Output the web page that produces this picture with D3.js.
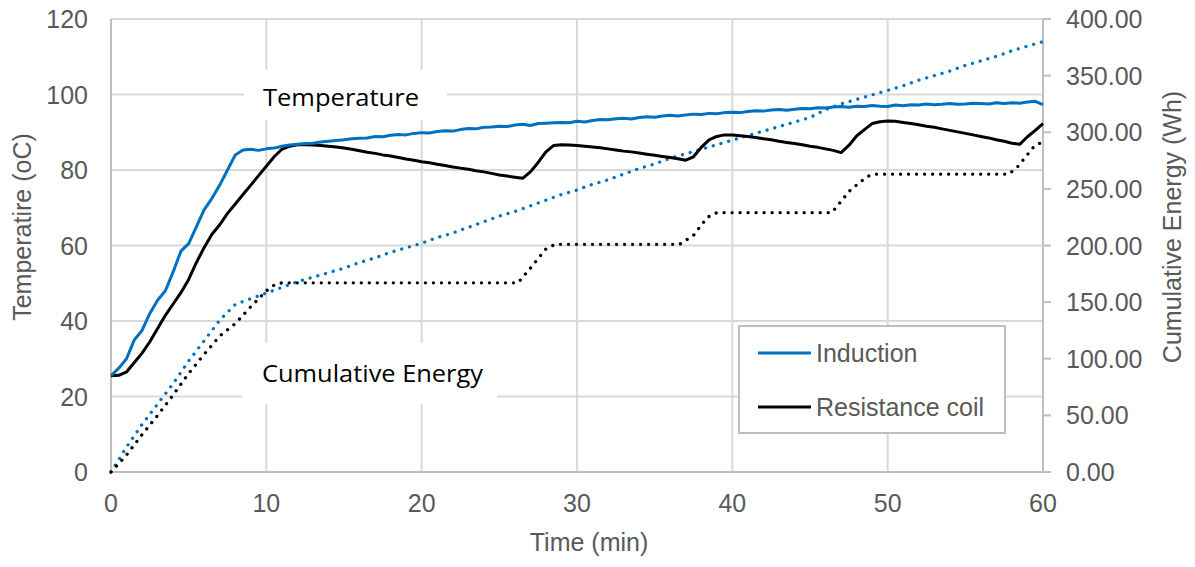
<!DOCTYPE html>
<html><head><meta charset="utf-8">
<script src="https://cdn.jsdelivr.net/npm/d3@7"></script>
<style>
html,body{margin:0;padding:0;background:#fff;}
svg{display:block;}
</style></head>
<body>
<svg id="chart" width="1195" height="567"></svg>
<script>
// ---------- DATA ----------
const tempTime = [0,0.5,1,1.5,2,2.5,3,3.5,4,4.5,5,5.5,6,6.5,7,7.5,8,8.5,9,9.5,10,10.5,11,11.5,12,12.5,13,13.5,14,14.5,
15,15.5,16,16.5,17,17.5,18,18.5,19,19.5,20,20.5,21,21.5,22,22.5,23,23.5,24,24.5,25,25.5,26,26.5,27,27.5,28,28.5,29,29.5,
30,30.5,31,31.5,32,32.5,33,33.5,34,34.5,35,35.5,36,36.5,37,37.5,38,38.5,39,39.5,40,40.5,41,41.5,42,42.5,43,43.5,44,44.5,
45,45.5,46,46.5,47,47.5,48,48.5,49,49.5,50,50.5,51,51.5,52,52.5,53,53.5,54,54.5,55,55.5,56,56.5,57,57.5,58,58.5,59,59.5,60];

const inductionTemp = [25.5,27.5,30,35,37.5,42,45.5,48,53,58.5,60.5,65,69.5,72.5,76,80,84,85.3,85.5,85.2,85.6,85.8,86.3,86.6,86.8,87.0,87.1,87.4,87.6,87.8,
88.0,88.3,88.4,88.5,88.9,88.8,89.2,89.4,89.3,89.7,89.9,89.8,90.2,90.4,90.3,90.7,91.0,90.9,91.3,91.4,91.6,91.5,91.9,92.1,91.8,92.3,92.4,92.5,92.6,92.5,
92.9,92.7,93.1,93.4,93.3,93.6,93.7,93.5,93.9,94.1,94.0,94.3,94.5,94.3,94.6,94.8,94.7,95.0,94.9,95.2,95.3,95.2,95.5,95.7,95.6,95.9,96.0,95.8,96.1,96.3,
96.2,96.5,96.4,96.7,96.8,96.6,96.9,96.8,97.1,96.9,96.8,97.2,97.0,97.3,97.2,97.5,97.3,97.4,97.6,97.4,97.5,97.7,97.6,97.5,97.8,97.6,97.8,97.7,98.0,98.2,97.3];

const resistanceTemp = [25.5,25.6,26.5,29,31.5,34.5,38,41.5,44.5,47.5,51,55.5,59.5,63,65.5,68.5,71,73.5,76,78.5,81,83.5,85.5,86.3,86.7,86.7,86.6,86.5,86.3,86.1,
85.8,85.5,85.1,84.7,84.4,84.0,83.7,83.3,82.9,82.6,82.2,81.9,81.5,81.2,80.8,80.5,80.2,79.8,79.5,79.1,78.7,78.4,78.1,77.8,79.5,82,84.8,86.5,86.7,86.6,
86.5,86.3,86.1,85.9,85.6,85.3,85.0,84.8,84.5,84.2,83.9,83.6,83.3,83.0,82.6,83.5,86.0,88.0,88.9,89.3,89.3,89.1,88.9,88.6,88.3,88.0,87.6,87.3,87.0,86.7,
86.3,86.0,85.6,85.2,84.6,86.5,89,90.7,92.3,92.8,93.0,92.9,92.6,92.3,92.0,91.6,91.3,90.9,90.5,90.1,89.7,89.3,88.9,88.5,88.0,87.6,87.1,86.8,88.8,90.5,92.3];

const inductionEnergyTime = [0,1,2,3,4,5,6,7,8,9,10,11,12,13,14,15,16,17,18,19,20,21,22,23,24,25,26,27,28,29,30,
31,32,33,34,35,36,37,38,39,40,41,42,43,44,45,46,47,48,49,50,51,52,53,54,55,56,57,58,59,60];
const inductionEnergy = [0,22,42,60,78,98,116,134,148,153,158,163,168,172,176,180,185,189,194,198,202,207,211,216,221,226,230,235,240,245,249,
254,258,263,268,272,277,281,285,289,293,297,301,305,309,313,320,325,329,333,337,341,346,350,354,359,363,367,372,376,380];

const resistanceEnergyTime = [0,1,2,3,4,5,6,7,8,9,10,10.5,11,26.2,27,28,28.6,36.6,37.5,38.4,39,46.4,47.6,48.7,49.2,57.8,58.4,59.4,60];
const resistanceEnergy = [0,15,33,50,68,87,104,120,131,146,160,165,167,167,180,197,201,201,209,225,229,229,249,261,263,263,270,287,292];

const xTicks = [0,10,20,30,40,50,60];
const yLeftTicks = [0,20,40,60,80,100,120];
const yRightTicks = [0,50,100,150,200,250,300,350,400];
const seriesNames = ["Induction","Resistance coil"];
const seriesColors = ["#0070C0","#000000"];

// ---------- CHART ----------
const svg = d3.select("#chart");
const X0 = 111, X1 = 1043, Y0 = 472, Y1 = 19;
const x = d3.scaleLinear().domain([0,60]).range([X0,X1]);
const yL = d3.scaleLinear().domain([0,120]).range([Y0,Y1]);
const yR = d3.scaleLinear().domain([0,400]).range([Y0,Y1]);
const tickFont = "'Liberation Sans', Arial, sans-serif";
const gray = "#595959";

// gridlines
const grid = svg.append("g");
grid.selectAll("line.h").data(yLeftTicks.filter(d=>d>0)).join("line")
  .attr("x1",X0).attr("x2",X1).attr("y1",d=>yL(d)).attr("y2",d=>yL(d))
  .attr("stroke","#d9d9d9").attr("stroke-width",2);
grid.selectAll("line.v").data(xTicks.filter(d=>d>0)).join("line")
  .attr("x1",d=>x(d)).attr("x2",d=>x(d)).attr("y1",Y1).attr("y2",Y0)
  .attr("stroke","#d9d9d9").attr("stroke-width",2);

// axes lines
svg.append("line").attr("x1",X0).attr("x2",X0).attr("y1",Y1).attr("y2",Y0).attr("stroke","#bfbfbf").attr("stroke-width",2);
svg.append("line").attr("x1",X0).attr("x2",X1).attr("y1",Y0).attr("y2",Y0).attr("stroke","#bfbfbf").attr("stroke-width",2);
svg.append("line").attr("x1",X1).attr("x2",X1).attr("y1",Y1).attr("y2",Y0).attr("stroke","#bfbfbf").attr("stroke-width",2);
svg.selectAll("line.rt").data(yRightTicks).join("line")
  .attr("x1",X1).attr("x2",X1+8).attr("y1",d=>yR(d)).attr("y2",d=>yR(d))
  .attr("stroke","#bfbfbf").attr("stroke-width",2);

// tick labels
svg.selectAll("text.yl").data(yLeftTicks).join("text")
  .attr("x",88).attr("y",d=>yL(d)).attr("dy","0.36em").attr("text-anchor","end")
  .attr("font-family",tickFont).attr("font-size",25).attr("fill",gray).text(d=>d);
svg.selectAll("text.yr").data(yRightTicks).join("text")
  .attr("x",1066).attr("y",d=>yR(d)).attr("dy","0.36em").attr("text-anchor","start")
  .attr("font-family",tickFont).attr("font-size",25).attr("fill",gray).text(d=>d3.format(".2f")(d));
svg.selectAll("text.xt").data(xTicks).join("text")
  .attr("x",d=>x(d)).attr("y",512).attr("text-anchor","middle")
  .attr("font-family",tickFont).attr("font-size",25).attr("fill",gray).text(d=>d);

// axis titles
svg.append("text").attr("x",589).attr("y",551).attr("text-anchor","middle")
  .attr("font-family",tickFont).attr("font-size",25).attr("fill",gray).text("Time (min)");
svg.append("text").attr("transform","translate(31,227) rotate(-90)").attr("text-anchor","middle")
  .attr("font-family",tickFont).attr("font-size",25).attr("fill",gray).text("Temperatire (oC)");
svg.append("text").attr("transform","translate(1181,227) rotate(-90)").attr("text-anchor","middle")
  .attr("font-family",tickFont).attr("font-size",25).attr("fill",gray).text("Cumulative Energy (Wh)");

// series
const lineL = d3.line().x(d=>x(d[0])).y(d=>yL(d[1]));
const lineR = d3.line().x(d=>x(d[0])).y(d=>yR(d[1]));
const zip = (a,b)=>a.map((v,i)=>[v,b[i]]);

svg.append("path").datum(zip(inductionEnergyTime,inductionEnergy)).attr("d",lineR)
  .attr("fill","none").attr("stroke",seriesColors[0]).attr("stroke-width",3.3)
  .attr("stroke-dasharray","0.01 8").attr("stroke-linecap","round");
svg.append("path").datum(zip(resistanceEnergyTime,resistanceEnergy)).attr("d",lineR)
  .attr("fill","none").attr("stroke",seriesColors[1]).attr("stroke-width",3.3)
  .attr("stroke-dasharray","0.01 8").attr("stroke-linecap","round");
svg.append("path").datum(zip(tempTime,resistanceTemp)).attr("d",lineL)
  .attr("fill","none").attr("stroke",seriesColors[1]).attr("stroke-width",3).attr("stroke-linejoin","round");
svg.append("path").datum(zip(tempTime,inductionTemp)).attr("d",lineL)
  .attr("fill","none").attr("stroke",seriesColors[0]).attr("stroke-width",3).attr("stroke-linejoin","round");

// label text boxes
const calFont = "'Open Sans', 'Noto Sans', sans-serif";
svg.append("rect").attr("x",244).attr("y",70).attr("width",203).attr("height",50).attr("fill","#fff");
svg.append("text").attr("x",263).attr("y",106).attr("font-family",calFont).attr("font-size",23)
  .attr("textLength",156).attr("lengthAdjust","spacingAndGlyphs").attr("fill","#000").text("Temperature");
svg.append("rect").attr("x",242).attr("y",343).attr("width",255).attr("height",61).attr("fill","#fff");
svg.append("text").attr("x",262).attr("y",382).attr("font-family",calFont).attr("font-size",23)
  .attr("textLength",221).attr("lengthAdjust","spacingAndGlyphs").attr("fill","#000").text("Cumulative Energy");

// legend
const lg = svg.append("g");
lg.append("rect").attr("x",739).attr("y",326).attr("width",266).attr("height",107)
  .attr("fill","#fff").attr("stroke","#bfbfbf").attr("stroke-width",2);
const legY = [353,407];
seriesNames.forEach((n,i)=>{
  lg.append("line").attr("x1",758).attr("x2",811).attr("y1",legY[i]).attr("y2",legY[i])
    .attr("stroke",seriesColors[i]).attr("stroke-width",3);
  lg.append("text").attr("x",816).attr("y",legY[i]).attr("dy","0.36em")
    .attr("font-family",tickFont).attr("font-size",25).attr("fill",gray).text(n);
});
</script>
</body></html>
